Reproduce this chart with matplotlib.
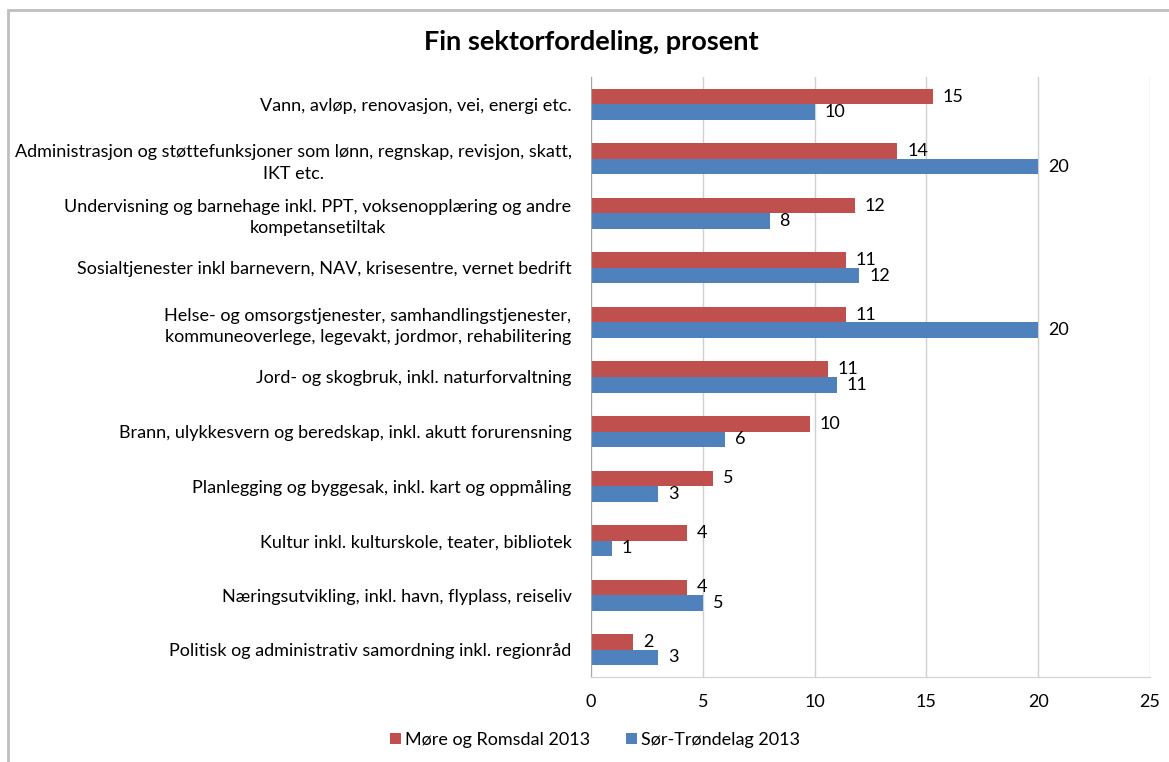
import matplotlib
matplotlib.use('Agg')
import matplotlib.pyplot as plt
import matplotlib.patches as patches
import numpy as np

plt.rcParams['font.family'] = ['Lato', 'DejaVu Sans']

categories = [
    'Vann, avløp, renovasjon, vei, energi etc.',
    'Administrasjon og støttefunksjoner som lønn, regnskap, revisjon, skatt,\nIKT etc.',
    'Undervisning og barnehage inkl. PPT, voksenopplæring og andre\nkompetansetiltak',
    'Sosialtjenester inkl barnevern, NAV, krisesentre, vernet bedrift',
    'Helse- og omsorgstjenester, samhandlingstjenester,\nkommuneoverlege, legevakt, jordmor, rehabilitering',
    'Jord- og skogbruk, inkl. naturforvaltning',
    'Brann, ulykkesvern og beredskap, inkl. akutt forurensning',
    'Planlegging og byggesak, inkl. kart og oppmåling',
    'Kultur inkl. kulturskole, teater, bibliotek',
    'Næringsutvikling, inkl. havn, flyplass, reiseliv',
    'Politisk og administrativ samordning inkl. regionråd',
]
more_romsdal = [15.3, 13.7, 11.8, 11.4, 11.4, 10.6, 9.8, 5.45, 4.3, 4.3, 1.9]
sor_trondelag = [10.0, 20.0, 8.0, 12.0, 20.0, 11.0, 6.0, 3.0, 0.95, 5.0, 3.0]
series_names = ['Møre og Romsdal 2013', 'Sør-Trøndelag 2013']
x_ticks = [0, 5, 10, 15, 20, 25]

red = '#C0504D'
blue = '#4F81BD'

W, H = 1169, 762
fig = plt.figure(figsize=(W / 100, H / 100), dpi=100)
ax = fig.add_axes([591 / W, 1 - 677 / H, 559 / W, 600 / H])

y = np.arange(len(categories))
h = 0.285
b1 = ax.barh(y - h / 2, more_romsdal, height=h, color=red, label=series_names[0])
b2 = ax.barh(y + h / 2, sor_trondelag, height=h, color=blue, label=series_names[1])

for bars, vals in [(b1, more_romsdal), (b2, sor_trondelag)]:
    for bar, v in zip(bars, vals):
        ax.annotate(f'{int(round(v))}', (v, bar.get_y() + bar.get_height() / 2),
                    xytext=(7, 0), textcoords='offset points',
                    ha='left', va='center', fontsize=13, color='black')

ax.set_ylim(len(categories) - 0.5, -0.5)
ax.set_xlim(0, 25)
ax.set_xticks(x_ticks)
ax.set_xticklabels([str(t) for t in x_ticks], fontsize=13)
ax.set_yticks(y)
ax.set_yticklabels(categories, fontsize=13, multialignment='center', linespacing=1.4)
ax.tick_params(axis='y', length=0, pad=14)
ax.tick_params(axis='x', length=0, pad=12)

ax.grid(axis='x', color='#d0d0d0', linewidth=1)
ax.set_axisbelow(True)
for s in ['top', 'right']:
    ax.spines[s].set_visible(False)
ax.spines['left'].set_color('#a6a6a6')
ax.spines['bottom'].set_color('#d0d0d0')

fig.text(591 / W, 1 - 42 / H, 'Fin sektorfordeling, prosent', ha='center', va='center',
         fontsize=19.5, fontweight='bold')

fig.legend(handles=[b1, b2], labels=series_names, loc='center',
           bbox_to_anchor=(595 / W, 1 - 740 / H), ncol=2, frameon=False,
           fontsize=13, handlelength=0.6, handleheight=0.6, handletextpad=0.2,
           columnspacing=2.0)

# outer chart border (top and left edges visible)
fig.add_artist(patches.Rectangle((7.5 / W, -0.05), 1.2, 1 - 9.5 / H + 0.05,
                                 transform=fig.transFigure, fill=False,
                                 edgecolor='#bfbfbf', linewidth=2))

fig.savefig('out.png', dpi=100)
